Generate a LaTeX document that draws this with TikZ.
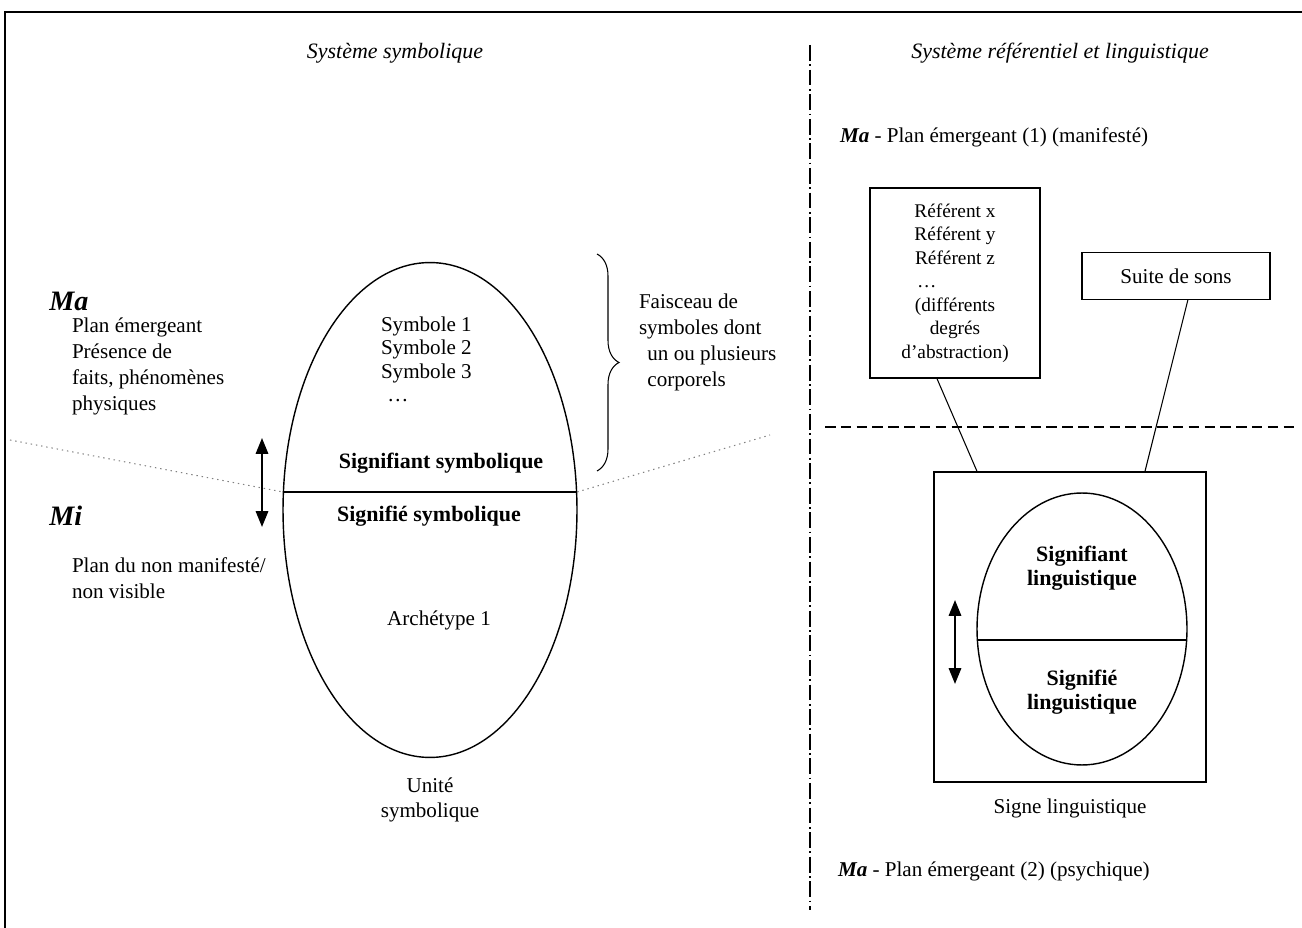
\documentclass[tikz,border=0pt]{standalone}
\usepackage{fontspec}
\setmainfont{Liberation Serif}
\usetikzlibrary{positioning}
\usetikzlibrary{calc}
\usetikzlibrary{shapes.geometric,arrows.meta,decorations.pathreplacing}

\tikzset{
  texte/.style={inner sep=0mm,outer sep=0mm,font=\fontsize{12}{14.8}\selectfont},
  titre/.style={inner sep=0mm,font=\fontsize{12.5}{15}\selectfont\itshape},
  gras/.style={texte,font=\fontsize{12.5}{13.8}\selectfont\bfseries},
  plan/.style={inner sep=0mm,font=\fontsize{16}{18}\selectfont\bfseries\itshape},
  petit/.style={inner sep=0mm,font=\fontsize{11}{13.4}\selectfont},
  boite/.style={draw,rectangle,line width=0.8pt,inner sep=0mm},
  fleche/.style={line width=1.2pt,{Triangle[width=7pt,length=9pt]}-{Triangle[width=7pt,length=9pt]}},
  pointille/.style={gray,line width=0.6pt,dash pattern=on 0.8pt off 2.2pt},
}

\begin{document}
\begin{tikzpicture}[x=0.02cm,y=-0.02cm]
  \useasboundingbox (0,0) rectangle (1302,928);
  \draw [line width=1.4pt] (5,928) -- (5,12) -- (1302,12);
  \draw [line width=0.6pt,dash pattern=on 9pt off 2pt on 1pt off 2pt] (810,45) -- (810,910);

  \node (titreG) [titre] at (395,53) {Système symbolique};
  \node (titreD) [titre] at (1060,53) {Système référentiel et linguistique};

  \node (unite) [draw,ellipse,line width=0.8pt,minimum width=5.88cm,minimum height=9.9cm,inner sep=0mm] at (430,510) {};
  \draw [line width=1pt] (unite.173) -- (unite.7);
  \node (symboles) [texte,align=left,anchor=north west] at (381,317) {Symbole 1\\[-1.5pt]Symbole 2\\[-1.5pt]Symbole 3\\[-1.5pt]\hspace*{0.3em}\dots};
  \node (signifiant) [gras] at (441,463) {Signifiant symbolique};
  \node (signifie) [gras] at (429,516) {Signifié symbolique};
  \node (archetype) [texte] at (439,620) {Archétype 1};
  \node (uniteLabel) [texte,align=center] at (430,800) {Unité\\[-1pt]symbolique};

  \coordinate (horizG) at (10,440);
  \coordinate (horizD) at (770,435);
  \draw [pointille] (horizG) -- (unite.173);
  \draw [pointille] (unite.7) -- (horizD);

  \draw [line width=0.6pt,decorate,decoration={brace,amplitude=0.44cm}] (597,254) -- (597,471);
  \node (faisceau) [texte,align=left,anchor=north west] at (639,294) {Faisceau de\\symboles dont\\\hspace*{0.4em}un ou plusieurs\\\hspace*{0.4em}corporels};

  \node (maG) [plan,anchor=west] at (49,301) {Ma};
  \node (planMa) [texte,align=left,anchor=north west] at (72,318) {Plan émergeant\\Présence de\\faits, phénomènes\\physiques};
  \node (miG) [plan,anchor=west] at (49,516) {Mi};
  \node (planMi) [texte,align=left,anchor=north west] at (72,558) {Plan du non manifesté/\\non visible};

  \coordinate (flecheHaut) at (262,438);
  \coordinate (flecheBas) at (262,527);
  \draw [fleche] (flecheHaut) -- (flecheBas);

  \node (maHaut) [texte,anchor=west] at (840,137) {\textbf{\textit{Ma}} - Plan émergeant (1) (manifesté)};
  \node (referent) [boite,petit,align=center,minimum width=3.4cm,minimum height=3.8cm] at (955,283) {Référent x\\Référent y\\Référent z\\\dots\rule{32pt}{0pt}\\(différents\\degrés\\d'abstraction)};
  \node (sons) [boite,texte,minimum width=3.76cm,minimum height=0.94cm] at (1176,276) {Suite de sons};
  \draw [line width=0.8pt,dash pattern=on 6pt off 3pt] (825,427) -- (1295,427);

  \node (signe) [boite,minimum width=5.44cm,minimum height=6.2cm] at (1070,627) {};
  \draw [line width=0.6pt] ($(referent.south)+(-18,0)$) -- ($(signe.north)+(-93,0)$);
  \draw [line width=0.6pt] ($(sons.south)+(12,0)$) -- ($(signe.north)+(75,0)$);
  \node (signeEll) [draw,ellipse,line width=0.8pt,minimum width=4.2cm,minimum height=5.44cm,inner sep=0mm] at (1082,629) {};
  \draw [line width=1pt] (signeEll.186) -- (signeEll.354);
  \node (signifiantL) [gras,align=center] at (1082,568) {Signifiant\\linguistique};
  \node (signifieL) [gras,align=center] at (1082,692) {Signifié\\linguistique};
  \coordinate (flecheLHaut) at (955,600);
  \coordinate (flecheLBas) at (955,684);
  \draw [fleche] (flecheLHaut) -- (flecheLBas);
  \node (signeLabel) [texte] at (1070,808) {Signe linguistique};

  \node (maBas) [texte,anchor=west] at (838,871) {\textbf{\textit{Ma}} - Plan émergeant (2) (psychique)};
\end{tikzpicture}
\end{document}
